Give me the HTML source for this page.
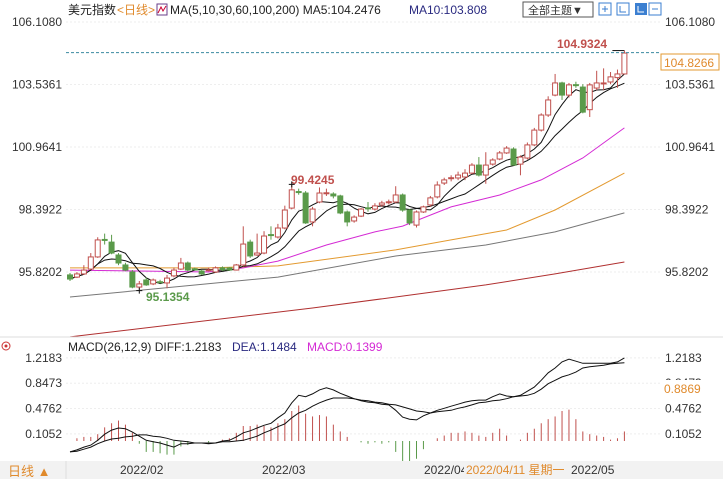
<!DOCTYPE html>
<html><head><meta charset="utf-8">
<style>
body{margin:0;background:#fff;width:723px;height:479px;overflow:hidden;font-family:"Liberation Sans","Noto Sans CJK SC",sans-serif;}
svg{display:block}
</style></head>
<body>
<svg id="chart" width="723" height="479" viewBox="0 0 723 479" xmlns="http://www.w3.org/2000/svg" font-family="Liberation Sans, Noto Sans CJK SC, sans-serif">
  <rect x="0" y="0" width="723" height="479" fill="#fff"/>
  <!-- header -->
  <g font-size="12">
    <text x="68" y="14" fill="#222">美元指数</text>
    <text x="117" y="14" fill="#e08a2c">&lt;日线&gt;</text>
    <rect x="157" y="4" width="10" height="11" fill="#fff" stroke="#6a3d8a"/>
    <path d="M158 13 L161 7 L163 11 L166 6" stroke="#c03" fill="none"/>
    <text x="170" y="14" fill="#222">MA(5,10,30,60,100,200) MA5:104.2476</text>
    <text x="409" y="14" fill="#2a2a80">MA10:103.808</text>
    <rect x="523" y="2" width="70" height="15" fill="#fff" stroke="#555"/>
    <text x="528" y="14" fill="#333" font-size="11">全部主题▼</text>
    <g>
      <rect x="599" y="3" width="12" height="12" fill="#fff" stroke="#3b7fd1"/>
      <rect x="617" y="3" width="12" height="12" fill="#fff" stroke="#3b7fd1"/>
      <rect x="635" y="3" width="12" height="12" fill="#3b7fd1"/>
      <rect x="649" y="3" width="12" height="12" fill="#fff" stroke="#3b7fd1"/>
      <path d="M602 9h6M605 6v6M620 6v6h6M638 6v6h6M652 9h6" stroke="#3b7fd1" fill="none"/>
      <path d="M638 6v6h6" stroke="#fff" fill="none"/>
    </g>
  </g>
  <g id="price-axis" font-size="12" fill="#333"></g>
  <g id="price-panel"></g>
  <line x1="0" y1="337" x2="723" y2="337" stroke="#ddd"/>
  <g font-size="12">
    <circle cx="6" cy="346" r="4" fill="none" stroke="#c33"/>
    <circle cx="6" cy="346" r="1.5" fill="#c33"/>
    <text x="68" y="351" fill="#222">MACD(26,12,9) DIFF:1.2183</text>
    <text x="232" y="351" fill="#2a2a80">DEA:1.1484</text>
    <text x="307" y="351" fill="#d42ad4">MACD:0.1399</text>
  </g>
  <g id="macd-axis" font-size="12" fill="#333"></g>
  <g id="macd-panel"></g>
  <!-- bottom bar -->
  <rect x="0" y="461" width="723" height="18" fill="#f2f2f2"/>
  <line x1="66" y1="461" x2="66" y2="479" stroke="#ddd"/>
  <text x="8" y="476" font-size="13" fill="#e08a2c">日线 ▲</text>
  <g font-size="12" fill="#333">
    <text x="120" y="474">2022/02</text>
    <text x="262" y="474">2022/03</text>
    <text x="424" y="474">2022/04</text>
    <rect x="464" y="463" width="106" height="14" fill="#f2f2f2"/>
    <text x="466" y="474" fill="#e08a2c">2022/04/11 星期一</text>
    <text x="571" y="474">2022/05</text>
  </g>
</svg>
<script>
// ---- data ----
const opens  = [95.70,95.61,95.74,95.94,96.44,97.16,97.05,96.52,96.11,95.82,95.20,95.49,95.33,95.42,95.37,95.66,95.94,96.19,95.95,95.86,95.89,95.82,95.99,95.99,95.90,96.11,97.05,96.52,96.60,97.36,97.26,97.63,98.45,99.13,99.07,97.88,98.70,99.05,99.03,98.95,98.29,97.92,98.12,98.46,98.41,98.58,98.70,98.70,98.99,98.37,97.75,98.29,98.58,98.91,99.48,99.66,99.69,99.73,99.89,100.22,99.81,100.26,100.47,100.72,100.88,100.26,100.51,101.05,101.66,102.28,103.10,103.60,103.10,103.53,103.43,102.50,103.39,103.58,103.64,103.82,103.97];
const closes = [95.53,95.74,95.90,96.44,97.14,97.12,96.60,96.19,95.90,95.20,95.33,95.29,95.49,95.40,95.57,95.90,96.19,95.90,95.94,95.74,95.91,95.99,95.90,95.90,96.11,96.97,96.48,96.60,97.30,97.32,97.63,98.37,99.20,99.09,97.84,98.41,99.07,99.08,98.95,98.25,97.88,98.08,98.41,98.45,98.54,98.66,98.71,98.99,98.37,97.84,98.29,98.50,98.87,99.40,99.61,99.70,99.81,99.89,100.22,99.81,100.22,100.43,100.72,100.92,100.22,100.55,101.05,101.66,102.28,102.90,103.60,103.10,103.52,103.50,102.40,103.52,103.60,103.60,103.85,103.97,104.83];
const highs  = [95.78,95.82,96.10,96.60,97.25,97.40,97.35,96.60,96.20,95.90,95.45,95.60,95.55,95.50,95.70,96.00,96.40,96.25,96.00,95.90,96.00,96.05,96.05,96.02,96.15,97.70,97.15,97.40,97.50,97.70,97.80,98.55,99.4245,99.25,99.15,98.50,99.30,99.25,99.10,99.00,98.35,98.15,98.45,98.70,98.65,98.75,98.80,99.35,99.05,98.40,98.35,98.55,98.95,99.55,99.70,99.80,99.95,100.05,100.30,100.55,100.75,100.50,100.80,101.00,100.95,100.62,101.15,101.75,102.35,103.05,103.97,103.65,103.60,103.65,103.55,103.60,104.10,104.20,104.05,104.15,104.9324];
const lows   = [95.45,95.57,95.70,95.90,96.40,96.95,96.55,96.10,95.85,95.15,95.1354,95.25,95.28,95.35,95.15,95.60,95.90,95.85,95.88,95.70,95.85,95.78,95.86,95.87,95.88,96.05,96.40,96.48,96.55,97.15,97.20,97.58,98.40,99.00,97.80,97.70,98.65,98.95,98.85,98.20,97.70,97.85,98.08,98.30,98.35,98.50,98.60,98.65,98.30,97.75,97.65,98.25,98.50,98.85,99.40,99.55,99.60,99.60,99.85,99.75,99.45,100.20,100.42,100.68,100.20,99.80,100.45,101.00,101.60,102.20,103.05,102.90,103.00,103.40,102.35,102.20,103.30,103.30,103.55,103.40,103.95];
// long moving averages sampled at candle indices
const ma30Idx = [0,10,20,25,30,37,44,48,55,62,68,74,80];
const ma30Val = [95.90,95.86,95.82,95.99,96.27,96.93,97.47,97.71,98.50,98.99,99.61,100.51,101.75];
const ma60Idx = [0,20,30,47,55,63,70,80];
const ma60Val = [95.99,95.99,96.07,96.73,97.14,97.55,98.37,99.89];
const ma100Idx = [0,30,47,60,70,80];
const ma100Val = [94.79,95.61,96.48,96.93,97.47,98.25];
const ma200Idx = [0,35,47,60,70,80];
const ma200Val = [93.15,94.34,94.79,95.29,95.74,96.23];
const diffVals = [-0.16,-0.13,-0.09,-0.06,0.01,0.10,0.16,0.19,0.18,0.13,0.07,0.01,-0.01,-0.03,-0.06,-0.09,-0.04,-0.04,-0.03,-0.03,-0.04,-0.03,0,0.01,0.06,0.12,0.15,0.19,0.23,0.26,0.34,0.41,0.56,0.67,0.65,0.69,0.75,0.78,0.75,0.70,0.66,0.62,0.59,0.57,0.56,0.54,0.53,0.45,0.35,0.32,0.31,0.37,0.41,0.45,0.48,0.51,0.54,0.57,0.59,0.60,0.60,0.65,0.69,0.66,0.65,0.67,0.73,0.79,0.89,1.00,1.07,1.16,1.20,1.17,1.14,1.14,1.14,1.14,1.14,1.16,1.2183];
const deaVals = [-0.16,-0.15,-0.12,-0.09,-0.04,0,0.03,0.04,0.06,0.07,0.09,0.09,0.07,0.06,0.04,0.01,0,-0.01,-0.03,-0.03,-0.03,-0.03,-0.01,-0.01,0,0.01,0.04,0.07,0.12,0.16,0.21,0.25,0.34,0.41,0.45,0.51,0.56,0.60,0.63,0.63,0.63,0.62,0.60,0.59,0.57,0.56,0.54,0.53,0.50,0.47,0.44,0.43,0.41,0.43,0.44,0.45,0.48,0.50,0.53,0.56,0.57,0.59,0.60,0.62,0.65,0.66,0.67,0.70,0.76,0.84,0.89,0.94,0.97,1.01,1.07,1.09,1.10,1.11,1.13,1.14,1.1484];
const priceTicks = [106.1080,103.5361,100.9641,98.3922,95.8202];
const macdTicks = [1.2183,0.8473,0.4762,0.1052];

// ---- scales ----
const NS='http://www.w3.org/2000/svg';
const xOf = i => 70 + i*6.93;
const yP = p => 22 + (106.108 - p)*24.3;
const yM = v => 441 - v*68.2;
function el(tag, attrs, parent){const e=document.createElementNS(NS,tag);for(const k in attrs)e.setAttribute(k,attrs[k]);parent.appendChild(e);return e;}
const pp=document.getElementById('price-panel');
const pa=document.getElementById('price-axis');
const mp=document.getElementById('macd-panel');
const ma=document.getElementById('macd-axis');

// price grid + ticks
priceTicks.forEach(t=>{
  const y=yP(t);
  const g=el('line',{x1:66,x2:660,y1:y,y2:y,stroke:'#eee','stroke-dasharray':'2,2'},pp);
  
  
  const l=el('text',{x:62,y:y+4,'text-anchor':'end'},pa); l.textContent=t.toFixed(4);
  
  
  const r=el('text',{x:665,y:y+4},pa); r.textContent=t.toFixed(4);
  
  
});

function sparseLine(idx, vals, color, name){
  const pts=idx.map((i,k)=>xOf(i).toFixed(1)+','+yP(vals[k]).toFixed(1)).join(' ');
  const l=el('polyline',{points:pts,fill:'none',stroke:color,'stroke-width':1},pp);
  
  
}
sparseLine(ma200Idx,ma200Val,'#b03030','ma200-line');
sparseLine(ma100Idx,ma100Val,'#777','ma100-line');
sparseLine(ma60Idx,ma60Val,'#e39a30','ma60-line');
sparseLine(ma30Idx,ma30Val,'#d42ad4','ma30-line');

function maLine(n,name){
  const pts=[];
  for(let i=0;i<closes.length;i++){
    const s=closes.slice(Math.max(0,i-n+1),i+1);
    const v=s.reduce((a,b)=>a+b,0)/s.length;
    pts.push(xOf(i).toFixed(1)+','+yP(v).toFixed(1));
  }
  const l=el('polyline',{points:pts.join(' '),fill:'none',stroke:'#111','stroke-width':1},pp);
  
  
}
maLine(10,'ma10-line');
maLine(5,'ma5-line');

// candles
for(let i=0;i<closes.length;i++){
  const up=closes[i]>=opens[i];
  const c=up?'#c0504d':'#5a9a4a';
  const x=xOf(i);
  const g=el('g',{},pp);
  
  
  el('line',{x1:x,x2:x,y1:yP(highs[i]),y2:yP(lows[i]),stroke:c},g);
  const top=yP(Math.max(opens[i],closes[i])), bot=yP(Math.min(opens[i],closes[i]));
  el('rect',{x:x-2.5,y:top,width:5,height:Math.max(1,bot-top),fill:up?'#fff':c,stroke:c,'stroke-width':1},g);
}
// last price line and annotations
const lastY=yP(highs[highs.length-1]);
const dl=el('line',{x1:66,x2:660,y1:lastY+2,y2:lastY+2,stroke:'#3a8aa0','stroke-dasharray':'3,2'},pp);


const lb=el('rect',{x:661,y:54,width:58,height:16,fill:'#fff',stroke:'#e39a30'},pp);


const lt=el('text',{x:664,y:67,'font-size':12,fill:'#e08a2c'},pp); lt.textContent=closes[closes.length-1].toFixed(4).replace('104.8300','104.8266');


function ann(txt,x,y,col,name){const t=el('text',{x:x,y:y,'font-size':12,'font-weight':'bold',fill:col},pp);t.textContent=txt;
  
  }
ann('104.9324',557,48,'#c0504d','high-annotation');
ann('99.4245',291,184,'#c0504d','local-high-annotation');
ann('95.1354',146,301,'#5a9a4a','low-annotation');
el('path',{d:`M${xOf(80)-12} ${lastY}h12`,stroke:'#111'},pp);
el('path',{d:`M${xOf(32)-3} ${yP(99.4245)}h6M${xOf(32)} ${yP(99.4245)-3}v6`,stroke:'#111'},pp);
el('path',{d:`M${xOf(10)-3} ${yP(95.1354)+2}h6M${xOf(10)} ${yP(95.1354)-1}v6`,stroke:'#111'},pp);

// MACD ticks
macdTicks.forEach(t=>{
  const y=yM(t);
  const g=el('line',{x1:66,x2:660,y1:y,y2:y,stroke:'#eee','stroke-dasharray':'2,2'},mp);
  
  
  const l=el('text',{x:62,y:y+4,'text-anchor':'end'},ma); l.textContent=t.toFixed(4);
  
  
  const r=el('text',{x:665,y:y+4},ma); r.textContent=t.toFixed(4);
  
  
});
const cb=el('rect',{x:661,y:380,width:62,height:16,fill:'#fff'},ma);


const ct=el('text',{x:664,y:393,fill:'#e08a2c'},ma); ct.textContent='0.8869';


// histogram
for(let i=0;i<diffVals.length;i++){
  const h=2*(diffVals[i]-deaVals[i]);
  const b=el('line',{x1:xOf(i),x2:xOf(i),y1:yM(0),y2:yM(h),stroke:h>=0?'#c0504d':'#5a9a4a','stroke-width':1},mp);
  
  
}
function mline(vals,name){
  const pts=vals.map((v,i)=>xOf(i).toFixed(1)+','+yM(v).toFixed(1)).join(' ');
  const l=el('polyline',{points:pts,fill:'none',stroke:'#111','stroke-width':1},mp);
  
  
}
mline(deaVals,'dea-line');
mline(diffVals,'diff-line');
</script>
</body></html>
